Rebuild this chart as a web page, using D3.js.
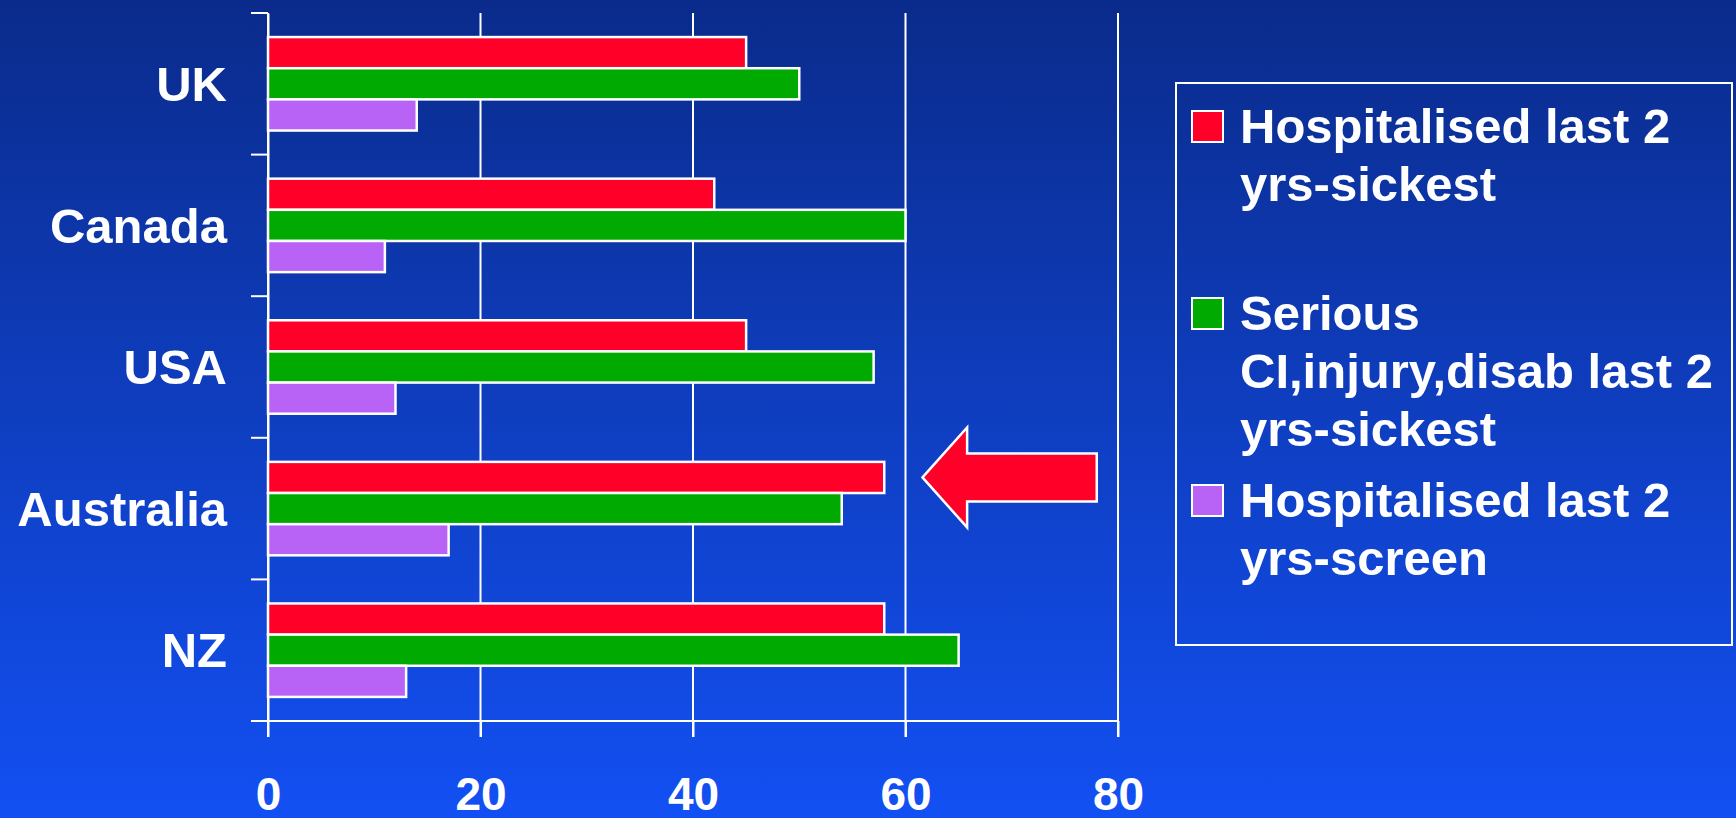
<!DOCTYPE html>
<html>
<head>
<meta charset="utf-8">
<script src="https://cdn.jsdelivr.net/npm/d3@7"></script>
<style>
	html, body { margin: 0; padding: 0; background: #0e3cc0; }
	svg { display: block; }
	text { font-family: "Liberation Sans", Arial, Helvetica, sans-serif; font-weight: bold; fill: #fff; }
</style>
</head>
<body>
<div id="chart"></div>
<script>

// data
const countries = ["UK", "Canada", "USA", "Australia", "NZ"];
const seriesKeys = ["hospSickest", "seriousSickest", "hospScreen"];
const seriesColors = ["#ff0029", "#00aa00", "#b963f6"];
const hospSickest = [45, 42, 45, 58, 58];
const seriousSickest = [50, 60, 57, 54, 65];
const hospScreen = [14, 11, 12, 17, 13];
const xTicks = [0, 20, 40, 60, 80];
const legendLines = [
	["Hospitalised last 2", "yrs-sickest"],
	["Serious", "CI,injury,disab last 2", "yrs-sickest"],
	["Hospitalised last 2", "yrs-screen"]
];

const W = 1736, H = 818;
const plot = { left: 268, right: 1118, top: 13, bottom: 721 };

const rows = countries.map((c, i) => ({
	country: c,
	hospSickest: hospSickest[i],
	seriousSickest: seriousSickest[i],
	hospScreen: hospScreen[i]
}));

const svg = d3.select("#chart")
		.append("svg")
		.attr("width", W)
		.attr("height", H);

// background
const grad = svg.append("defs")
		.append("linearGradient")
			.attr("id", "bg")
			.attr("x1", 0).attr("y1", 0)
			.attr("x2", 0).attr("y2", 1);
grad.append("stop").attr("offset", "0%").attr("stop-color", "#0a2b8b");
grad.append("stop").attr("offset", "100%").attr("stop-color", "#1350f3");

svg.append("rect")
	.attr("width", W)
	.attr("height", H)
	.attr("fill", "url(#bg)");

// scales
const x = d3.scaleLinear()
		.domain([0, 80])
		.range([plot.left, plot.right]);

const y0 = d3.scaleBand()
		.domain(countries)
		.range([plot.top, plot.bottom])
		.paddingInner(0.34)
		.paddingOuter(0.17);

const y1 = d3.scaleBand()
		.domain(seriesKeys)
		.range([0, y0.bandwidth()]);

const color = d3.scaleOrdinal()
		.domain(seriesKeys)
		.range(seriesColors);

// grid lines (extend below the axis as ticks)
svg.append("g")
	.attr("class", "grid")
	.selectAll("line")
	.data(xTicks)
	.join("line")
		.attr("x1", d => x(d))
		.attr("x2", d => x(d))
		.attr("y1", plot.top)
		.attr("y2", plot.bottom + 16)
		.attr("stroke", "#fff")
		.attr("stroke-width", 2);

// x axis
const xAxis = svg.append("g")
	.attr("transform", "translate(0," + plot.bottom + ")")
	.call(d3.axisBottom(x).tickValues(xTicks).tickSize(16).tickPadding(40).tickSizeOuter(0));

xAxis.select(".domain").remove();
xAxis.selectAll(".tick line").attr("stroke", "#fff").attr("stroke-width", 2);
xAxis.selectAll(".tick text")
	.attr("fill", "#fff")
	.style("font-size", "46px")
	.style("font-family", "'Liberation Sans', Arial, sans-serif")
	.style("font-weight", "bold");

svg.append("line")
	.attr("x1", plot.left - 17)
	.attr("x2", x(80))
	.attr("y1", plot.bottom)
	.attr("y2", plot.bottom)
	.attr("stroke", "#fff")
	.attr("stroke-width", 2);

// y axis
const yAxis = svg.append("g")
	.attr("transform", "translate(" + plot.left + ",0)")
	.call(d3.axisLeft(y0).tickSize(0).tickPadding(41));

yAxis.select(".domain").attr("stroke", "#fff").attr("stroke-width", 2);
yAxis.selectAll(".tick text")
	.attr("fill", "#fff")
	.attr("dy", "0.35em")
	.style("font-size", "49px")
	.style("font-family", "'Liberation Sans', Arial, sans-serif")
	.style("font-weight", "bold");

// category boundary ticks
const half = y0.step() * y0.paddingInner() / 2;
const bounds = countries.map(c => y0(c) - half).concat([y0(countries[countries.length - 1]) + y0.bandwidth() + half]);

svg.append("g")
	.selectAll("line")
	.data(bounds)
	.join("line")
		.attr("x1", plot.left - 17)
		.attr("x2", plot.left)
		.attr("y1", d => d)
		.attr("y2", d => d)
		.attr("stroke", "#fff")
		.attr("stroke-width", 2);

// bars
svg.append("g")
	.selectAll("g")
	.data(rows)
	.join("g")
		.attr("transform", d => "translate(0," + y0(d.country) + ")")
	.selectAll("rect")
	.data(d => seriesKeys.map(k => ({ key: k, value: d[k] })))
	.join("rect")
		.attr("x", x(0))
		.attr("y", d => y1(d.key))
		.attr("width", d => x(d.value) - x(0))
		.attr("height", y1.bandwidth())
		.attr("fill", d => color(d.key))
		.attr("stroke", "#fff")
		.attr("stroke-width", 2.5);

// arrow pointing at Australia's first bar
const ay = y0("Australia") + y1(seriesKeys[0]) + y1.bandwidth() / 2;
const tipX = x(61.6), headX = x(65.8), endX = x(78);
const arrowPts = [
	[tipX, ay],
	[headX, ay - 50],
	[headX, ay - 24],
	[endX, ay - 24],
	[endX, ay + 24],
	[headX, ay + 24],
	[headX, ay + 50]
];

svg.append("path")
	.attr("d", d3.line()(arrowPts) + "Z")
	.attr("fill", "#ff0029")
	.attr("stroke", "#fff")
	.attr("stroke-width", 2.5);

// legend
const legend = svg.append("g").attr("class", "legend");

legend.append("rect")
	.attr("x", 1176)
	.attr("y", 83)
	.attr("width", 556)
	.attr("height", 562)
	.attr("fill", "none")
	.attr("stroke", "#fff")
	.attr("stroke-width", 2);

const item = legend.selectAll("g.item")
	.data(seriesKeys)
	.join("g")
		.attr("class", "item")
		.attr("transform", (d, i) => "translate(1192," + (143 + 187 * i) + ")");

item.append("rect")
	.attr("x", 0)
	.attr("y", -32)
	.attr("width", 31)
	.attr("height", 31)
	.attr("fill", d => color(d))
	.attr("stroke", "#fff")
	.attr("stroke-width", 2);

item.append("text")
	.attr("x", 48)
	.style("font-size", "49px")
	.selectAll("tspan")
	.data((d, i) => legendLines[i])
	.join("tspan")
		.attr("x", 48)
		.attr("y", (d, i) => i * 58)
		.text(d => d);

</script>
</body>
</html>
